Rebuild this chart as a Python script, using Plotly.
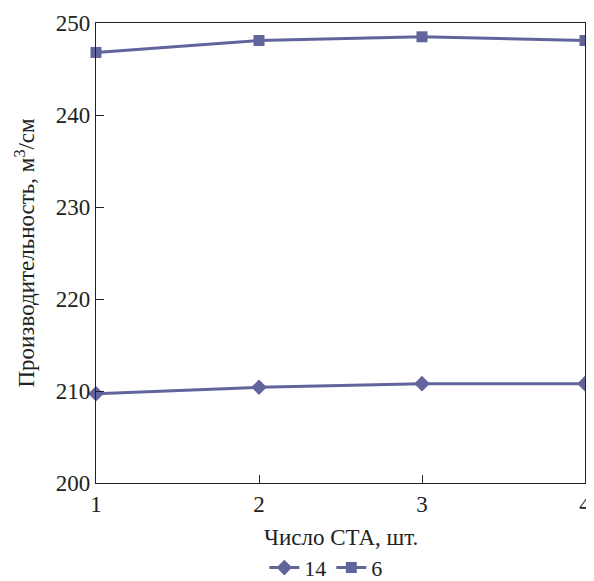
import plotly.graph_objects as go

x_vals = [1, 2, 3, 4]
series_14 = [209.7, 210.4, 210.8, 210.8]
series_6 = [246.8, 248.1, 248.5, 248.1]
names = ["14", "6"]
x_title = "Число СТА, шт."
y_title = "Производительность, м<sup>3</sup>/см"
color = "#62659c"
font = "Liberation Serif"
fs = 23

fig = go.Figure()
fig.add_trace(go.Scatter(x=x_vals, y=series_14, name=names[0], mode="lines+markers",
                         line=dict(color=color, width=3),
                         marker=dict(symbol="diamond", size=12, color=color), cliponaxis=False))
fig.add_trace(go.Scatter(x=x_vals, y=series_6, name=names[1], mode="lines+markers",
                         line=dict(color=color, width=3),
                         marker=dict(symbol="square", size=11, color=color), cliponaxis=False))

axis_common = dict(showline=True, linecolor="#222", linewidth=1.2, mirror=True,
                   ticks="inside", ticklen=8, tickcolor="#222", tickwidth=1,
                   showgrid=False, zeroline=False, automargin=False,
                   ticklabeloverflow="allow",
                   tickfont=dict(family=font, size=fs, color="#222"))

fig.update_layout(
    width=586, height=573,
    margin=dict(l=88, r=9, t=15, b=98),
    plot_bgcolor="white", paper_bgcolor="white",
    font=dict(family=font, size=fs, color="#222"),
    xaxis=dict(range=[1, 4], tickvals=x_vals, **axis_common),
    yaxis=dict(range=[200, 250], tickvals=[200, 210, 220, 230, 240, 250],
               title=dict(text=y_title, font=dict(family=font, size=fs), standoff=14),
               **axis_common),
    legend=dict(orientation="h", x=0.47, xanchor="center", yref="container", y=0.023, yanchor="middle",
                font=dict(family=font, size=22), itemwidth=30, tracegroupgap=0),
    showlegend=True,
)
fig.add_annotation(text=x_title, xref="paper", yref="paper", x=0.5, y=-0.1174,
                   xanchor="center", yanchor="middle", showarrow=False,
                   font=dict(family=font, size=fs, color="#222"))

fig.write_html("out.html")
